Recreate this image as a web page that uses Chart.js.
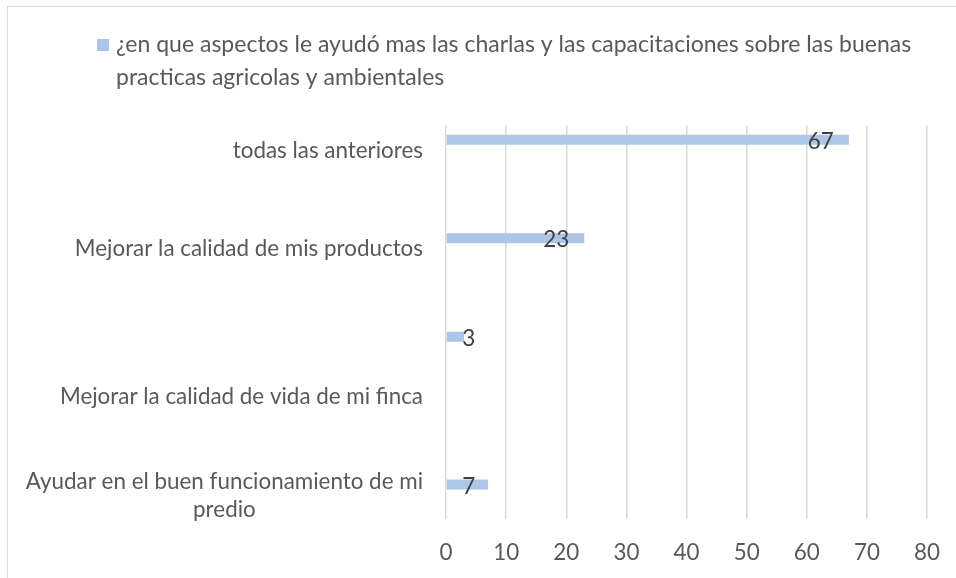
<!DOCTYPE html>
<html>
<head>
<meta charset="utf-8">
<script src="https://cdn.jsdelivr.net/npm/chart.js@4.4.1/dist/chart.umd.min.js"></script>
<style>
  html, body { margin: 0; padding: 0; background: #fff; overflow: hidden; }
  #marco { position: absolute; left: 7px; top: 6px; width: 980px; height: 600px; border-left: 1px solid #d9d9d9; border-top: 1px solid #d9d9d9; }
  #grafico { position: absolute; left: 0; top: 0; }
</style>
</head>
<body>
<div id="marco"></div>
<canvas id="grafico" width="956" height="578"></canvas>
<script>
// categorias del eje (hay huecos vacios como en la hoja original)
const categorias = [
  "todas las anteriores",
  "",
  "Mejorar la calidad de mis productos",
  "",
  "",
  "Mejorar la calidad de vida de mi finca",
  "",
  ["Ayudar en el buen funcionamiento de mi", "predio"]
];
const valores = [67, null, 23, null, 3, null, null, 7];
const serieVacia = [null, null, null, null, null, null, null, null]; // segunda serie sin datos
const ticksX = [0, 10, 20, 30, 40, 50, 60, 70, 80];
const tituloSerie = "¿en que aspectos le ayudó mas las charlas y las capacitaciones sobre las buenas practicas agricolas y ambientales";

const colorBarra = '#adc5e7';
const colorTexto = '#595959';
const fuente = 'Lato, "Open Sans", sans-serif';

// leyenda dibujada a mano porque el texto va en dos lineas
const leyenda = {
  id: 'leyenda',
  afterDraw(chart) {
    const ctx = chart.ctx;
    ctx.save();
    ctx.fillStyle = colorBarra;
    ctx.fillRect(97, 39, 12, 12);
    ctx.font = '23px ' + fuente;
    ctx.fillStyle = colorTexto;
    ctx.textBaseline = 'middle';
    ctx.textAlign = 'left';
    // cortar el texto en lineas
    const palabras = tituloSerie.split(' ');
    const lineas = [];
    let actual = '';
    for (const p of palabras) {
      const prueba = actual ? actual + ' ' + p : p;
      if (ctx.measureText(prueba).width > 825 && actual) {
        lineas.push(actual);
        actual = p;
      } else {
        actual = prueba;
      }
    }
    lineas.push(actual);
    lineas.forEach((l, i) => ctx.fillText(l, 116, 45 + i * 33));
    ctx.restore();
  }
};

// etiquetas del eje de categorias (las de varias lineas van centradas)
const etiquetasY = {
  id: 'etiquetasY',
  afterDraw(chart) {
    const ctx = chart.ctx;
    const escala = chart.scales.y;
    ctx.save();
    ctx.font = '22.4px ' + fuente;
    ctx.fillStyle = colorTexto;
    ctx.textBaseline = 'middle';
    ctx.textAlign = 'center';
    categorias.forEach((cat, i) => {
      const lineas = Array.isArray(cat) ? cat : [cat];
      if (!lineas[0]) return;
      const anchoMax = Math.max(...lineas.map(l => ctx.measureText(l).width));
      const cx = chart.chartArea.left - 23 - anchoMax / 2;
      const y0 = escala.getPixelForTick(i) + 1 - (lineas.length - 1) * 14;
      lineas.forEach((l, k) => ctx.fillText(l, cx, y0 + k * 28));
    });
    ctx.restore();
  }
};

// numeros sobre las barras
const etiquetasValores = {
  id: 'etiquetasValores',
  afterDatasetsDraw(chart) {
    const ctx = chart.ctx;
    const meta = chart.getDatasetMeta(0);
    ctx.save();
    ctx.font = '22.4px ' + fuente;
    ctx.fillStyle = '#404040';
    ctx.textAlign = 'center';
    ctx.textBaseline = 'middle';
    meta.data.forEach((barra, i) => {
      if (valores[i] === null) return;
      const x = Math.max(barra.x - 28, barra.base + 22);
      ctx.fillText(String(valores[i]), x, barra.y + 2);
    });
    ctx.restore();
  }
};

const ctx = document.getElementById('grafico');
new Chart(ctx, {
  type: 'bar',
  data: {
    labels: categorias,
    datasets: [
      { label: tituloSerie, data: valores, backgroundColor: colorBarra, barPercentage: 0.51, categoryPercentage: 0.8 },
      { label: '', data: serieVacia, backgroundColor: colorBarra, barPercentage: 0.51, categoryPercentage: 0.8 }
    ]
  },
  options: {
    indexAxis: 'y',
    responsive: false,
    animation: false,
    layout: { padding: { left: 446, right: 29, top: 125, bottom: 14 } },
    plugins: {
      legend: { display: false },
      tooltip: { enabled: false }
    },
    scales: {
      x: {
        min: 0,
        max: 80,
        afterBuildTicks: (axis) => { axis.ticks = ticksX.map(v => ({ value: v })); },
        afterFit: (axis) => { axis.height = 45; axis.paddingLeft = 0; axis.paddingRight = 0; },
        grid: { color: '#d9d9d9', lineWidth: 1.5, drawTicks: false },
        border: { display: false },
        ticks: { color: colorTexto, font: { family: fuente, size: 22.4 }, padding: 20, maxRotation: 0 }
      },
      y: {
        display: false
      }
    }
  },
  plugins: [leyenda, etiquetasY, etiquetasValores]
});
</script>
</body>
</html>
